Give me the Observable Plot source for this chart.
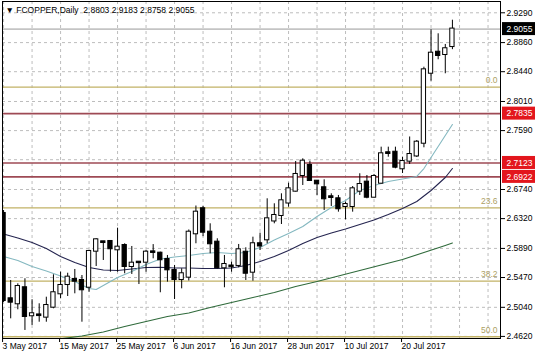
<!DOCTYPE html>
<html><head><meta charset="utf-8">
<script src="https://cdn.jsdelivr.net/npm/d3@7"></script>
<script src="https://cdn.jsdelivr.net/npm/@observablehq/plot@0.6"></script>
<style>
html,body{margin:0;padding:0;background:#fff;}
#chart{width:536px;height:357px;overflow:hidden;}
</style></head><body><div id="chart"></div>
<script>
const symbolTitle = "\u25BC FCOPPER,Daily  2.8803 2.9183 2.8758 2.9055";
const dates = [
 "2017-05-03","2017-05-04","2017-05-05","2017-05-08","2017-05-09","2017-05-10","2017-05-11","2017-05-12",
 "2017-05-15","2017-05-16","2017-05-17","2017-05-18","2017-05-19","2017-05-22","2017-05-23","2017-05-24",
 "2017-05-25","2017-05-26","2017-05-29","2017-05-30","2017-05-31","2017-06-01","2017-06-02","2017-06-05",
 "2017-06-06","2017-06-07","2017-06-08","2017-06-09","2017-06-12","2017-06-13","2017-06-14","2017-06-15",
 "2017-06-16","2017-06-19","2017-06-20","2017-06-21","2017-06-22","2017-06-23","2017-06-26","2017-06-27",
 "2017-06-28","2017-06-29","2017-06-30","2017-07-03","2017-07-04","2017-07-05","2017-07-06","2017-07-07",
 "2017-07-10","2017-07-11","2017-07-12","2017-07-13","2017-07-14","2017-07-17","2017-07-18","2017-07-19",
 "2017-07-20","2017-07-21","2017-07-24","2017-07-25","2017-07-26","2017-07-27","2017-07-28","2017-07-31"];
const open = [2.6394,2.5163,2.5091,2.5322,2.4918,2.4930,2.4898,2.5042,2.5235,2.5369,2.5442,2.5427,2.5330,2.5850,2.5985,2.5990,
 2.5870,2.5932,2.5629,2.5691,2.5691,2.5840,2.5821,2.5730,2.5571,2.5441,2.5475,2.6101,2.6462,2.6124,2.5980,2.5610,
 2.5636,2.5644,2.5835,2.5547,2.5957,2.6014,2.6286,2.6365,2.6545,2.6716,2.6942,2.7087,2.6860,2.6765,2.6635,2.6606,
 2.6495,2.6495,2.6716,2.6846,2.6629,2.6831,2.7270,2.7278,2.7039,2.7149,2.7224,2.7408,2.8418,2.8721,2.8688,2.8803];
const high = [2.6437,2.5427,2.5379,2.5452,2.5149,2.5091,2.5186,2.5509,2.5547,2.5532,2.5586,2.5499,2.5860,2.6029,2.5990,2.5994,
 2.6182,2.5957,2.5918,2.5691,2.5860,2.5945,2.5836,2.5788,2.5644,2.5596,2.6156,2.6502,2.6495,2.6245,2.6029,2.5788,
 2.5691,2.5947,2.5899,2.6052,2.6110,2.6606,2.6534,2.6678,2.6831,2.7144,2.7183,2.7149,2.6870,2.6880,2.6678,2.6654,
 2.6557,2.6783,2.6967,2.6942,2.6957,2.7351,2.7351,2.7351,2.7206,2.7498,2.7447,2.8505,2.9045,2.8987,2.8833,2.9183];
const low = [2.5110,2.4874,2.5004,2.4706,2.4778,2.4825,2.4825,2.5019,2.5163,2.5196,2.5235,2.4825,2.5258,2.5629,2.5716,2.5547,
 2.5547,2.5524,2.5514,2.5369,2.5547,2.5740,2.5250,2.5403,2.5153,2.5307,2.5420,2.5957,2.6060,2.5812,2.5596,2.5322,
 2.5547,2.5610,2.5427,2.5417,2.5860,2.5957,2.6245,2.6235,2.6485,2.6704,2.6798,2.6860,2.6654,2.6437,2.6495,2.6413,
 2.6303,2.6413,2.6654,2.6606,2.6618,2.6822,2.7206,2.7039,2.6971,2.7101,2.7202,2.7342,2.8303,2.8612,2.8410,2.8758];
const close = [2.5138,2.5114,2.5340,2.4908,2.4947,2.4921,2.5066,2.5250,2.5355,2.5475,2.5417,2.5293,2.5846,2.6014,2.5975,2.5885,
 2.5908,2.5629,2.5677,2.5685,2.5836,2.5832,2.5726,2.5581,2.5441,2.5524,2.6124,2.6413,2.6124,2.5957,2.5610,2.5658,
 2.5625,2.5870,2.5532,2.5957,2.5925,2.6317,2.6365,2.6577,2.6750,2.6957,2.7149,2.6870,2.6822,2.6606,2.6625,2.6462,
 2.6524,2.6750,2.6812,2.6629,2.6928,2.7255,2.7260,2.7062,2.7144,2.7245,2.7423,2.8467,2.8707,2.8674,2.8771,2.9055];

// moving averages (bar index, price)
const fastMaIdx = [0,2,4,6,8,10,12,13,14,16,18,20,22,24,26,28,30,32,34,36,38,40,42,44,46,48,50,52,54,56,58,59,60,61,62,63];
const fastMa = [2.5773,2.5716,2.5629,2.5564,2.5492,2.5413,2.5312,2.5297,2.5355,2.5470,2.5557,2.5658,2.5737,2.5766,2.5788,2.5817,2.5831,2.5817,2.5831,2.5903,
 2.6011,2.6105,2.6206,2.6351,2.6481,2.6581,2.6726,2.6798,2.6856,2.6892,2.6928,2.7043,2.7202,2.7361,2.7519,2.7678];
const midMaIdx = [0,2,4,6,8,10,12,14,16,18,20,22,24,26,28,30,32,34,36,38,40,42,44,46,48,50,52,54,56,58,60,62,63];
const midMa = [2.6098,2.6040,2.5975,2.5889,2.5773,2.5687,2.5615,2.5579,2.5571,2.5593,2.5615,2.5619,2.5607,2.5607,2.5600,2.5600,2.5607,
 2.5643,2.5701,2.5773,2.5860,2.5961,2.6048,2.6112,2.6170,2.6235,2.6300,2.6379,2.6466,2.6567,2.6726,2.6913,2.7043];
const slowMaIdx = [8,11,14,17,20,23,26,29,32,35,38,41,44,47,50,53,56,59,62,63];
const slowMa = [2.4586,2.4626,2.4684,2.4763,2.4835,2.4908,2.4958,2.5037,2.5110,2.5182,2.5254,2.5340,2.5413,2.5492,2.5571,2.5651,2.5730,2.5831,2.5932,2.5968];

const yGrid = [2.9290,2.8860,2.8440,2.8010,2.7590,2.7170,2.6740,2.6320,2.5890,2.5470,2.5040,2.4620];
const yTickLabels = [2.9290,2.8860,2.8440,2.8010,2.7590,2.6740,2.6320,2.5890,2.5470,2.5040,2.4620];
const xTickDates = ["2017-05-03","2017-05-15","2017-05-25","2017-06-06","2017-06-16","2017-06-28","2017-07-10","2017-07-20"];
const xTickLabels = ["3 May 2017","15 May 2017","25 May 2017","6 Jun 2017","16 Jun 2017","28 Jun 2017","10 Jul 2017","20 Jul 2017"];
const fibLabels = ["0.0","23.6","38.2","50.0"];
const fibPrices = [2.8216,2.6476,2.5417,2.4615];
const levelPrices = [2.7835,2.7123,2.6922];
const lastPrice = 2.9055;

const candles = dates.map((d,i)=>({i, date:d, o:open[i], h:high[i], l:low[i], c:close[i]}));
const bulls = candles.filter(d=>d.c>=d.o), bears = candles.filter(d=>d.c<d.o);
const toPts = (idx, vals) => idx.map((i,k)=>({i, v:vals[k]}));
const fibs = fibLabels.map((t,k)=>({t, p:fibPrices[k]}));
const xTickIdx = xTickDates.map(d=>dates.indexOf(d));
const tickLab = new Map(xTickIdx.map((i,k)=>[i, xTickLabels[k]]));
const gridIdx = d3.range(0, 69, 4);
const xEnd = 69.75;
const boxes = [{p:lastPrice, fill:"#000"}].concat(levelPrices.map(p=>({p, fill:"#e3161d"})));
const RED_LINE = "#9e4a55", FIB = "#c2b266";

const chart = Plot.plot({
  width:536, height:357,
  marginTop:1, marginBottom:19, marginLeft:2, marginRight:36,
  x:{domain:[-0.15, xEnd], axis:null, label:null},
  y:{domain:[2.4590, 2.9453], axis:null, label:null},
  style:{fontFamily:"'Liberation Sans', Arial, sans-serif", fontSize:"8px", background:"#fff", overflow:"visible", color:"#000"},
  marks:[
    Plot.gridX(gridIdx, {stroke:"#bdbdbd", strokeOpacity:1, strokeDasharray:"3,3"}),
    Plot.gridY(yGrid, {stroke:"#bdbdbd", strokeOpacity:1, strokeDasharray:"3,3"}),
    Plot.ruleY([lastPrice], {stroke:"#c4c4c4", strokeWidth:1.6}),
    Plot.ruleY(fibPrices, {stroke:FIB, strokeWidth:1.3}),
    Plot.text(fibs, {x:xEnd, y:"p", text:"t", dx:-3, dy:-7, textAnchor:"end", fill:"#ad9f64", fontSize:8.5}),
    Plot.ruleY(levelPrices, {stroke:RED_LINE, strokeWidth:1.6}),
    Plot.line(toPts(slowMaIdx, slowMa), {x:"i", y:"v", stroke:"#2f6a3b", strokeWidth:1.1, clip:true}),
    Plot.line(toPts(midMaIdx, midMa), {x:"i", y:"v", stroke:"#24244f", strokeWidth:1.1, clip:true}),
    Plot.line(toPts(fastMaIdx, fastMa), {x:"i", y:"v", stroke:"#84b8c0", strokeWidth:1.1, clip:true}),
    Plot.ruleX(candles, {x:"i", y1:"l", y2:"h", stroke:"#000", strokeWidth:1, clip:true}),
    Plot.rect(bulls, {x1:d=>d.i-0.3, x2:d=>d.i+0.3, y1:"o", y2:"c", fill:"#fff", stroke:"#000", strokeWidth:1, insetTop:-0.5, insetBottom:-0.5, clip:true}),
    Plot.rect(bears, {x1:d=>d.i-0.3, x2:d=>d.i+0.3, y1:"o", y2:"c", fill:"#000", stroke:"#000", strokeWidth:1, insetTop:-0.5, insetBottom:-0.5, clip:true}),
    Plot.frame({stroke:"#000", strokeWidth:1}),
    Plot.axisY(yTickLabels, {anchor:"right", label:null, tickFormat:d=>d.toFixed(4), tickSize:4, tickPadding:2, fontSize:8.5}),
    Plot.axisX(xTickIdx, {anchor:"bottom", label:null, tickFormat:i=>tickLab.get(i), textAnchor:"start", tickSize:4, tickPadding:0, dx:-1, fontSize:8.5}),
    Plot.rect(boxes, {x1:xEnd, x2:xEnd, y1:"p", y2:"p", insetLeft:2, insetRight:-35, insetTop:-6.5, insetBottom:-6.5, fill:d=>d.fill}),
    Plot.text(boxes, {x:xEnd, y:"p", text:d=>d.p.toFixed(4), dx:6, textAnchor:"start", fill:"#fff", fontSize:8.5}),
    Plot.text([symbolTitle], {frameAnchor:"top-left", text:d=>d, dx:3, dy:5, textAnchor:"start", lineAnchor:"top", fontSize:8.5, fill:"#000"})
  ]
});
document.getElementById("chart").appendChild(chart);
</script>
</body></html>
